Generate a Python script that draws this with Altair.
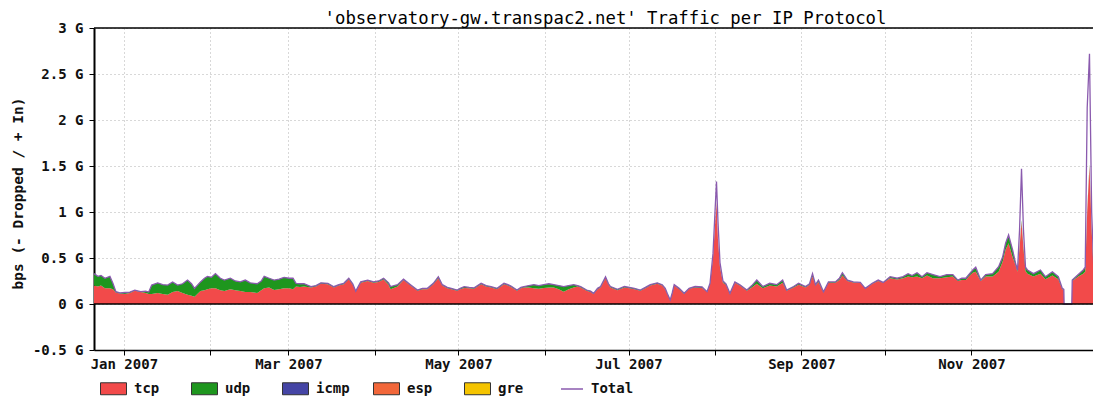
import altair as alt
import pandas as pd

# day offsets from 2007-01-01 (fractional days)
day = [-10.71, -9.28, -8.21, -6.78, -5.00, -3.93, -2.86, -1.43, 0.36, 2.14, 3.93, 6.07, 7.85, 8.92, 9.99,
       12.14, 13.92, 15.71, 17.49, 19.27, 21.06, 22.84, 24.27, 25.34, 27.48, 28.91, 29.98, 31.41, 32.84,
       34.62, 36.05, 38.19, 39.98, 41.76, 43.55, 45.33, 47.83, 49.26, 50.33, 52.11, 53.90, 55.68, 57.47,
       59.25, 60.68, 61.75, 63.18, 64.61, 67.10, 68.89, 70.67, 73.17, 75.31, 77.10, 78.88, 80.67, 82.10,
       83.17, 84.95, 87.45, 89.59, 91.38, 93.16, 94.95, 95.66, 98.16, 100.30, 102.80, 105.30, 107.08,
       108.87, 111.01, 112.79, 114.22, 116.01, 117.43, 119.57, 120.65, 122.07, 123.86, 125.64, 128.14,
       129.93, 131.71, 133.85, 136.35, 137.78, 138.85, 140.99, 142.42, 143.49, 145.27, 147.06, 148.84,
       150.63, 152.41, 154.20, 155.98, 157.77, 159.55, 161.34, 162.76, 163.83, 165.98, 167.40, 168.48,
       169.90, 170.97, 172.76, 173.83, 174.54, 177.04, 179.54, 181.33, 183.11, 185.25, 187.04, 188.82,
       191.32, 193.10, 194.18, 194.89, 195.96, 196.67, 197.39, 199.17, 200.96, 202.74, 204.88, 207.38,
       209.17, 210.24, 211.31, 212.02, 212.56, 213.09, 213.81, 214.88, 215.95, 217.38, 219.16, 220.95,
       223.44, 225.23, 227.01, 229.16, 231.65, 234.15, 236.29, 237.72, 240.22, 242.01, 244.50, 245.93,
       247.00, 248.07, 249.14, 250.93, 252.71, 255.21, 256.64, 257.71, 259.50, 261.64, 264.14, 265.92,
       268.42, 270.56, 272.35, 274.84, 277.34, 279.48, 281.27, 282.70, 284.48, 286.27, 288.05, 290.19,
       292.69, 295.19, 297.33, 299.12, 300.54, 301.97, 303.04, 304.47, 305.54, 307.33, 309.11, 311.61,
       313.75, 315.18, 316.25, 317.32, 318.75, 319.82, 320.53, 321.25, 321.96, 322.67, 323.39, 324.10,
       326.24, 328.74, 330.53, 333.03, 335.17, 336.59, 337.13, 337.24, 339.99, 340.16, 342.31, 344.09,
       344.81, 345.52, 346.34, 347.12, 348.02, 348.73]

# Total (G bps)
total = [0.33, 0.30, 0.31, 0.28, 0.30, 0.225, 0.134, 0.12, 0.125, 0.13, 0.15, 0.134, 0.14, 0.13, 0.206,
         0.23, 0.21, 0.206, 0.24, 0.206, 0.22, 0.26, 0.22, 0.17, 0.24, 0.28, 0.30, 0.29, 0.33,
         0.28, 0.26, 0.28, 0.25, 0.24, 0.26, 0.23, 0.22, 0.25, 0.30, 0.28, 0.26, 0.27, 0.29,
         0.28, 0.28, 0.225, 0.22, 0.22, 0.19, 0.20, 0.23, 0.225, 0.188, 0.21, 0.225, 0.28, 0.22,
         0.14, 0.24, 0.26, 0.24, 0.25, 0.28, 0.23, 0.19, 0.21, 0.27, 0.21, 0.152, 0.17,
         0.17, 0.225, 0.297, 0.21, 0.18, 0.17, 0.152, 0.17, 0.188, 0.18, 0.175, 0.225,
         0.20, 0.188, 0.17, 0.225, 0.21, 0.195, 0.152, 0.18, 0.19, 0.20, 0.21, 0.20,
         0.21, 0.22, 0.21, 0.20, 0.19, 0.20, 0.21, 0.20, 0.19, 0.152, 0.14, 0.116,
         0.17, 0.19, 0.297, 0.22, 0.19, 0.16, 0.19, 0.18, 0.17, 0.152, 0.18, 0.21,
         0.23, 0.21, 0.17, 0.116, 0.044, 0.12, 0.21, 0.17, 0.116, 0.17, 0.19, 0.185,
         0.134, 0.225, 0.55, 1.0, 1.33, 0.9, 0.45, 0.25, 0.22, 0.116, 0.24, 0.21,
         0.152, 0.20, 0.26, 0.19, 0.225, 0.21, 0.26, 0.152, 0.19, 0.225, 0.19, 0.22,
         0.33, 0.21, 0.26, 0.134, 0.24, 0.24, 0.28, 0.34, 0.26, 0.24, 0.235, 0.17,
         0.225, 0.26, 0.235, 0.297, 0.28, 0.297, 0.33, 0.31, 0.34, 0.297, 0.34, 0.32,
         0.297, 0.32, 0.32, 0.26, 0.28, 0.28, 0.32, 0.37, 0.40, 0.26, 0.32, 0.33,
         0.405, 0.51, 0.66, 0.75, 0.59, 0.445, 0.37, 0.8, 1.47, 0.8, 0.40, 0.37,
         0.33, 0.37, 0.297, 0.35, 0.297, 0.17, 0.16, 0.0, 0.0, 0.26, 0.32, 0.37,
         0.40, 2.13, 2.72, 1.0, 0.28, 0.27]

# tcp (G bps)
tcp = [0.20, 0.19, 0.20, 0.17, 0.17, 0.16, 0.125, 0.115, 0.11, 0.12, 0.145, 0.13, 0.12, 0.11, 0.11,
       0.12, 0.11, 0.10, 0.13, 0.14, 0.12, 0.10, 0.09, 0.08, 0.14, 0.15, 0.16, 0.17, 0.17,
       0.15, 0.14, 0.16, 0.15, 0.14, 0.13, 0.13, 0.12, 0.15, 0.17, 0.18, 0.152, 0.16, 0.17,
       0.17, 0.16, 0.19, 0.185, 0.19, 0.18, 0.19, 0.22, 0.215, 0.18, 0.20, 0.215, 0.27, 0.21,
       0.135, 0.23, 0.25, 0.23, 0.24, 0.265, 0.21, 0.16, 0.19, 0.26, 0.20, 0.145, 0.16,
       0.16, 0.215, 0.28, 0.20, 0.17, 0.16, 0.145, 0.16, 0.175, 0.17, 0.165, 0.215,
       0.19, 0.18, 0.16, 0.215, 0.20, 0.185, 0.145, 0.17, 0.18, 0.18, 0.17, 0.165,
       0.175, 0.18, 0.18, 0.16, 0.134, 0.16, 0.18, 0.19, 0.18, 0.145, 0.13, 0.11,
       0.16, 0.18, 0.28, 0.21, 0.18, 0.15, 0.18, 0.17, 0.16, 0.145, 0.17, 0.20,
       0.22, 0.20, 0.16, 0.11, 0.04, 0.11, 0.20, 0.16, 0.11, 0.165, 0.18, 0.175,
       0.13, 0.215, 0.50, 0.85, 1.1, 0.7, 0.40, 0.23, 0.21, 0.11, 0.23, 0.20,
       0.145, 0.18, 0.22, 0.17, 0.20, 0.19, 0.23, 0.145, 0.18, 0.21, 0.18, 0.21,
       0.30, 0.20, 0.24, 0.125, 0.23, 0.23, 0.26, 0.31, 0.25, 0.235, 0.23, 0.165,
       0.22, 0.25, 0.23, 0.28, 0.265, 0.28, 0.30, 0.29, 0.30, 0.28, 0.31, 0.28,
       0.28, 0.29, 0.30, 0.25, 0.26, 0.26, 0.30, 0.34, 0.35, 0.25, 0.30, 0.30,
       0.35, 0.46, 0.59, 0.66, 0.51, 0.42, 0.35, 0.6, 0.89, 0.6, 0.36, 0.33,
       0.30, 0.33, 0.27, 0.31, 0.27, 0.16, 0.15, 0.0, 0.0, 0.25, 0.30, 0.33,
       0.35, 1.0, 1.5, 0.8, 0.25, 0.25]

# udp (G bps)
udp = [0.13, 0.11, 0.11, 0.11, 0.13, 0.065, 0.01, 0.005, 0.015, 0.01, 0.005, 0.005, 0.02, 0.02, 0.096,
       0.11, 0.10, 0.106, 0.11, 0.066, 0.10, 0.16, 0.13, 0.09, 0.10, 0.13, 0.14, 0.12, 0.16,
       0.13, 0.12, 0.12, 0.10, 0.10, 0.13, 0.10, 0.10, 0.10, 0.13, 0.10, 0.108, 0.11, 0.12,
       0.11, 0.12, 0.035, 0.035, 0.03, 0.01, 0.01, 0.01, 0.01, 0.008, 0.01, 0.01, 0.01, 0.01,
       0.005, 0.01, 0.01, 0.01, 0.01, 0.015, 0.02, 0.03, 0.02, 0.01, 0.01, 0.007, 0.01,
       0.01, 0.01, 0.017, 0.01, 0.01, 0.01, 0.007, 0.01, 0.013, 0.01, 0.01, 0.01,
       0.01, 0.008, 0.01, 0.01, 0.01, 0.01, 0.007, 0.01, 0.01, 0.02, 0.04, 0.035,
       0.035, 0.04, 0.03, 0.04, 0.056, 0.04, 0.03, 0.01, 0.01, 0.007, 0.01, 0.006,
       0.01, 0.01, 0.017, 0.01, 0.01, 0.01, 0.01, 0.01, 0.01, 0.007, 0.01, 0.01,
       0.01, 0.01, 0.01, 0.006, 0.004, 0.01, 0.01, 0.01, 0.006, 0.005, 0.01, 0.01,
       0.004, 0.01, 0.01, 0.01, 0.01, 0.01, 0.01, 0.01, 0.01, 0.006, 0.01, 0.01,
       0.007, 0.02, 0.04, 0.02, 0.025, 0.02, 0.03, 0.007, 0.01, 0.015, 0.01, 0.01,
       0.03, 0.01, 0.02, 0.009, 0.01, 0.01, 0.02, 0.03, 0.01, 0.005, 0.005, 0.005,
       0.005, 0.01, 0.005, 0.017, 0.015, 0.017, 0.03, 0.02, 0.04, 0.017, 0.03, 0.04,
       0.017, 0.03, 0.02, 0.01, 0.02, 0.02, 0.02, 0.03, 0.05, 0.01, 0.02, 0.03,
       0.055, 0.05, 0.07, 0.09, 0.08, 0.025, 0.02, 0.02, 0.02, 0.02, 0.04, 0.04,
       0.03, 0.04, 0.027, 0.04, 0.027, 0.01, 0.01, 0.0, 0.0, 0.01, 0.02, 0.04,
       0.05, 0.02, 0.02, 0.02, 0.03, 0.02]

protocols = ["tcp", "udp", "icmp", "esp", "gre"]
proto_colors = ["#F24A4A", "#1E961E", "#4545A5", "#F2673A", "#F5C400"]
total_color = "#8A5AAE"

y_ticks = [-0.5, -0.25, 0, 0.25, 0.5, 0.75, 1, 1.25, 1.5, 1.75, 2, 2.25, 2.5, 2.75, 3]
month_ticks = [alt.DateTime(year=2007, month=m, date=1) for m in range(1, 12)]
view_end_day = 347.6

FONT = "DejaVu Sans Mono"

base_t = pd.Timestamp("2007-01-01")
times = [base_t + pd.Timedelta(days=d) for d in day]
tstr = [t.strftime("%Y-%m-%dT%H:%M:%S") for t in times]
end_str = (base_t + pd.Timedelta(days=view_end_day)).strftime("%Y-%m-%dT%H:%M:%S")

rows = []
for i, t in enumerate(tstr):
    rows.append({"t": t, "protocol": "tcp", "ord": 0, "v": tcp[i]})
    rows.append({"t": t, "protocol": "udp", "ord": 1, "v": udp[i]})
area_df = pd.DataFrame(rows)
line_df = pd.DataFrame({"t": tstr, "v": total, "series": ["Total"] * len(tstr)})

xscale = alt.Scale(domain=[tstr[0], end_str], nice=False)
yscale = alt.Scale(domain=[-0.5, 3], nice=False, zero=False)

xaxis = alt.Axis(
    values=month_ticks,
    labelExpr="month(datum.value) % 2 == 0 ? timeFormat(datum.value, '%b %Y') : ''",
    title=None, grid=True, gridDash=[1, 3], gridColor="#b0b0b0", gridWidth=1,
    domainColor="#000", domainWidth=1.5, tickColor="#000", tickSize=5,
    labelFont=FONT, labelFontSize=14, labelFontWeight="bold", labelColor="#111", labelPadding=2,
    labelOverlap=False, labelFlush=False,
)
yaxis = alt.Axis(
    values=y_ticks,
    labelExpr="(datum.value * 4) % 2 == 0 ? datum.value + ' G' : ''",
    title="bps (- Dropped / + In)", titleFont=FONT, titleFontSize=14.5, titleFontWeight="bold",
    titleColor="#111", titleX=-76, titleY=165, titleBaseline="middle", titleAngle=270, titleAlign="center",
    grid=True, gridDash=[1, 3], gridColor="#b0b0b0", gridWidth=1,
    domainColor="#000", domainWidth=2, tickColor="#000", tickSize=5,
    labelFont=FONT, labelFontSize=14, labelFontWeight="bold", labelColor="#111", labelPadding=6,
    labelOverlap=False,
)

area = alt.Chart(area_df).mark_area(interpolate="linear", opacity=1, clip=True).encode(
    x=alt.X("t:T", scale=xscale, axis=xaxis),
    y=alt.Y("v:Q", scale=yscale, axis=yaxis, stack="zero"),
    color=alt.Color(
        "protocol:N",
        scale=alt.Scale(domain=protocols, range=proto_colors),
        legend=alt.Legend(
            orient="none", legendX=6, legendY=347, direction="horizontal", title=None,
            symbolType="M-1,-0.46H1V0.46H-1Z", symbolSize=676, symbolStrokeColor="#333",
            symbolStrokeWidth=1, symbolOpacity=1, labelFont=FONT, labelFontSize=14,
            labelFontWeight="bold", labelColor="#111", labelOffset=7, columnPadding=21,
            gridAlign="all", padding=0,
        ),
    ),
    order=alt.Order("ord:Q"),
)

line = alt.Chart(line_df).mark_line(strokeWidth=1.3, interpolate="linear", clip=True).encode(
    x=alt.X("t:T", scale=xscale),
    y=alt.Y("v:Q", scale=yscale),
    stroke=alt.Stroke(
        "series:N",
        scale=alt.Scale(domain=["Total"], range=[total_color]),
        legend=alt.Legend(
            orient="none", legendX=466, legendY=349, direction="horizontal", title=None,
            symbolType="stroke", symbolSize=484, symbolStrokeWidth=1.5,
            labelFont=FONT, labelFontSize=14, labelFontWeight="bold", labelColor="#111",
            labelOffset=7, padding=0,
        ),
    ),
)

zero_rule = alt.Chart(pd.DataFrame({"y": [0]})).mark_rule(color="#000", strokeWidth=1.5).encode(
    y=alt.Y("y:Q", scale=yscale)
)
top_rule = alt.Chart(pd.DataFrame({"y": [3]})).mark_rule(color="#000", strokeWidth=1.5).encode(
    y=alt.Y("y:Q", scale=yscale)
)

chart = alt.layer(area, line, zero_rule, top_rule).properties(
    width=999,
    height=322,
    title=alt.TitleParams(
        "'observatory-gw.transpac2.net' Traffic per IP Protocol",
        font=FONT, fontSize=17.3, fontWeight="normal", color="#000", anchor="middle",
        dx=12, dy=10, offset=4,
    ),
    autosize=alt.AutoSizeParams(type="none"),
    padding={"left": 86, "top": 20, "right": 0, "bottom": 48},
).configure(font=FONT).configure_view(stroke=None)

chart.save("out.html", embed_options={"renderer": "svg", "actions": False})
